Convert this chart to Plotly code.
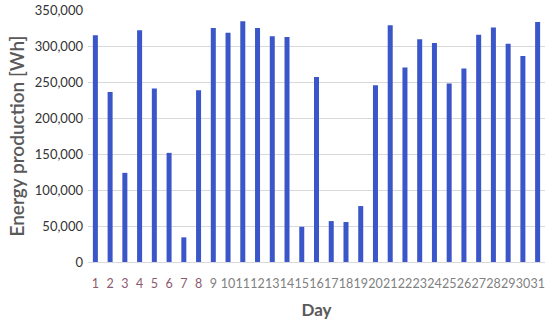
import plotly.graph_objects as go

days = [str(d) for d in range(1, 32)]
energy_wh = [315300, 236500, 124000, 322200, 241200, 151800, 34300, 238900,
             325400, 319000, 334700, 325400, 313900, 313000, 49000, 257400,
             56900, 55600, 77800, 245800, 329200, 270400, 309700, 304600,
             248200, 269000, 316200, 326000, 303700, 286600, 333800]
y_ticks = [0, 50000, 100000, 150000, 200000, 250000, 300000, 350000]

# first eight day labels are tinted in the source image
tick_text = ['<span style="color:#8c5a6e">%s</span>' % d if int(d) <= 8 else d for d in days]

fig = go.Figure(go.Bar(x=days, y=energy_wh, marker_color='#3a56c8',
                       marker_line_width=0))

fig.update_layout(
    width=550, height=323,
    margin=dict(l=88, r=5, t=10, b=61, autoexpand=False),
    plot_bgcolor='white', paper_bgcolor='white',
    bargap=0.66,
    showlegend=False,
    font=dict(family='Lato', size=13, color='#404040'),
)
fig.update_xaxes(
    tickmode='array', tickvals=days, ticktext=tick_text, tickangle=0,
    tickfont=dict(size=12.5, color='#7f7f7f'), ticklabelstandoff=10,
    title=dict(text='<b>Day</b>', font=dict(size=17, color='#595959'), standoff=14),
    showgrid=False, showline=True, linecolor='#d9d9d9', ticks='',
    automargin=False,
)
fig.update_yaxes(
    range=[0, 350500], tickvals=y_ticks, tickformat=',',
    tickfont=dict(size=13, color='#333333'), ticklabelstandoff=4,
    ticklabeloverflow='allow',
    title=dict(text='Energy production [Wh]', font=dict(size=19, color='#595959', weight=600), standoff=5),
    showgrid=True, gridcolor='#d9d9d9', gridwidth=1, zeroline=False, ticks='',
    automargin=False,
)

# drop the default body margin so the 550x323 figure fills the window
fig.write_html("out.html", config={'displayModeBar': False},
               post_script="document.body.style.margin='0';")
